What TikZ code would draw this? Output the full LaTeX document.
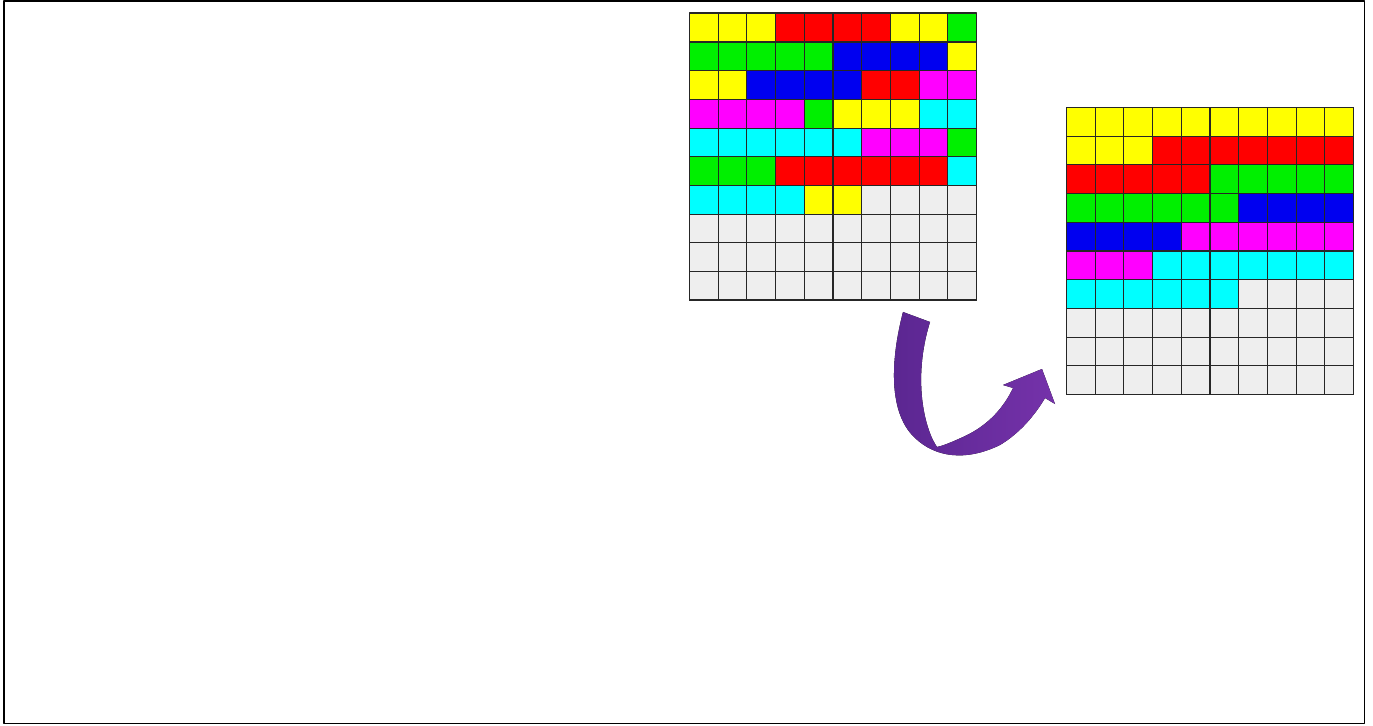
\documentclass[tikz,border=0pt]{standalone}

\definecolor{cY}{HTML}{FFFF00}
\definecolor{cR}{HTML}{FF0000}
\definecolor{cG}{HTML}{00F000}
\definecolor{cB}{HTML}{0000F0}
\definecolor{cM}{HTML}{FF00FF}
\definecolor{cC}{HTML}{00FFFF}
\definecolor{cE}{HTML}{EEEEEE}
\definecolor{arrowdark}{HTML}{5A2690}
\definecolor{arrowlight}{HTML}{7532AA}

\begin{document}
\begin{tikzpicture}[x=0.02cm,y=-0.02cm,line join=round,
  cell/.style={draw=black!85,line width=0.6pt},
  rim/.style={draw=black!85,line width=1pt}]
  \useasboundingbox (0,0) rectangle (1373,726);

  % 外框
  \draw[line width=1.1pt] (4,0.8) rectangle (1364.5,723.5);

  % 左上方格 (整理前)
  \coordinate (P) at (689.5,13.3);
  \foreach \row [count=\r from 0] in {{Y,Y,Y,R,R,R,R,Y,Y,G},{G,G,G,G,G,B,B,B,B,Y},
      {Y,Y,B,B,B,B,R,R,M,M},{M,M,M,M,G,Y,Y,Y,C,C},{C,C,C,C,C,C,M,M,M,G},
      {G,G,G,R,R,R,R,R,R,C},{C,C,C,C,Y,Y,E,E,E,E},{E,E,E,E,E,E,E,E,E,E},
      {E,E,E,E,E,E,E,E,E,E},{E,E,E,E,E,E,E,E,E,E}}
    \foreach \c [count=\k from 0] in \row
      \filldraw[cell,fill=c\c] ([shift={(\k*28.7,\r*28.7)}]P) rectangle +(28.7,28.7);
  \draw[rim] (P) rectangle +(287,287);

  % 右侧方格 (整理后)
  \coordinate (Q) at (1066.5,107.5);
  \foreach \row [count=\r from 0] in {{Y,Y,Y,Y,Y,Y,Y,Y,Y,Y},{Y,Y,Y,R,R,R,R,R,R,R},
      {R,R,R,R,R,G,G,G,G,G},{G,G,G,G,G,G,B,B,B,B},{B,B,B,B,M,M,M,M,M,M},
      {M,M,M,C,C,C,C,C,C,C},{C,C,C,C,C,C,E,E,E,E},{E,E,E,E,E,E,E,E,E,E},
      {E,E,E,E,E,E,E,E,E,E},{E,E,E,E,E,E,E,E,E,E}}
    \foreach \c [count=\k from 0] in \row
      \filldraw[cell,fill=c\c] ([shift={(\k*28.7,\r*28.7)}]Q) rectangle +(28.7,28.7);
  \draw[rim] (Q) rectangle +(287,287);

  % 弯箭头
  \fill[left color=arrowdark,right color=arrowlight]
    (903,312) .. controls (893,350) and (885,410) .. (915,438)
    .. controls (935,457) and (965,462) .. (1000,445)
    .. controls (1020,433) and (1035,415) .. (1045,398)
    -- (1055,404) -- (1042,369) -- (1003,385) -- (1013,388)
    .. controls (1005,405) and (990,425) .. (963,437)
    .. controls (950,443) and (942,446) .. (937,447)
    .. controls (925,430) and (912,380) .. (930,322) -- cycle;
\end{tikzpicture}
\end{document}
